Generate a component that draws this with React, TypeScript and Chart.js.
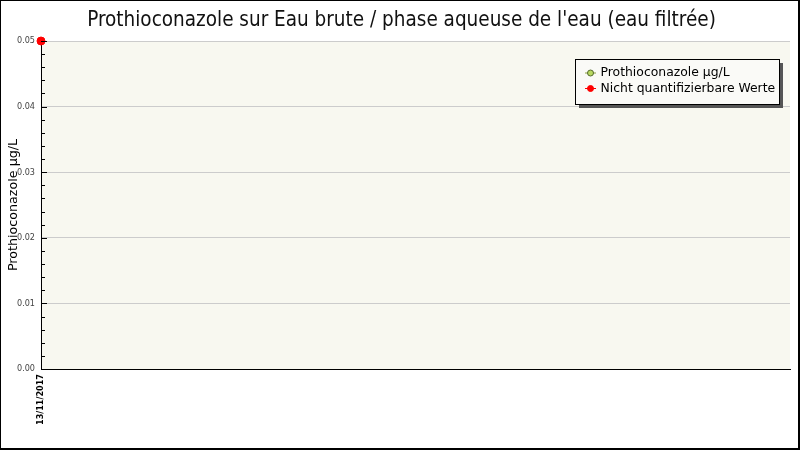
import React, { useEffect, useRef } from "react";
import { Chart, registerables } from "chart.js";

Chart.register(...registerables);

const TITLE = "Prothioconazole sur Eau brute / phase aqueuse de l'eau (eau filtrée)";
const Y_TITLE = "Prothioconazole µg/L";
const categories = ["13/11/2017"];
const measuredLabel = "Prothioconazole µg/L";
const measuredValues: (number | null)[] = [null];
const nqLabel = "Nicht quantifizierbare Werte";
const nqValues: (number | null)[] = [0.05];
const yMin = 0;
const yMax = 0.05;
const yStep = 0.01;
const yMinorStep = 0.002;

const FONT = "'DejaVu Sans', sans-serif";
const FONT_C = "'DejaVu Sans Condensed', 'DejaVu Sans', sans-serif";

const decorPlugin = {
  id: "decor",
  beforeDraw(chart: any) {
    const { ctx, chartArea } = chart;
    ctx.save();
    ctx.fillStyle = "#ffffff";
    ctx.fillRect(0, 0, chart.width, chart.height);
    ctx.fillStyle = "#f8f8f0";
    ctx.fillRect(chartArea.left, chartArea.top, chartArea.right - chartArea.left, chartArea.bottom - chartArea.top);
    ctx.restore();
  },
  afterDraw(chart: any) {
    const { ctx, chartArea } = chart;
    const y = chart.scales.y;
    ctx.save();
    ctx.strokeStyle = "#000";
    ctx.lineWidth = 1;
    const n = Math.round((yMax - yMin) / yMinorStep);
    for (let i = 0; i <= n; i++) {
      const v = yMin + i * yMinorStep;
      const py = Math.round(y.getPixelForValue(v)) + 0.5;
      const major = i % Math.round(yStep / yMinorStep) === 0;
      ctx.beginPath();
      ctx.moveTo(chartArea.left, py);
      ctx.lineTo(chartArea.left + (major ? 6 : 4), py);
      ctx.stroke();
    }
    ctx.fillStyle = "#111";
    ctx.font = `20.5px ${FONT_C}`;
    ctx.textAlign = "center";
    ctx.textBaseline = "alphabetic";
    ctx.fillText(TITLE, 401.5, 26);
    ctx.fillStyle = "#000";
    ctx.save();
    ctx.translate(16.5, (chartArea.top + chartArea.bottom) / 2);
    ctx.rotate(-Math.PI / 2);
    ctx.font = `12.7px ${FONT}`;
    ctx.fillText(Y_TITLE, 0, 0);
    ctx.restore();
    const lx = 575, ly = 59, lw = 204, lh = 45;
    ctx.fillStyle = "#555";
    ctx.fillRect(lx + 4, ly + 4, lw, lh);
    ctx.fillStyle = "#fafaf7";
    ctx.fillRect(lx, ly, lw, lh);
    ctx.strokeStyle = "#000";
    ctx.strokeRect(lx + 0.5, ly + 0.5, lw, lh);
    const items = chart.data.datasets.map((d: any) => ({
      label: d.label,
      fill: d.pointBackgroundColor,
      stroke: d.pointBorderColor,
      line: d.legendLine,
    }));
    items.forEach((it: any, i: number) => {
      const cy = ly + 14 + i * 15.5;
      ctx.strokeStyle = it.line;
      ctx.lineWidth = 1;
      ctx.beginPath();
      ctx.moveTo(585, cy);
      ctx.lineTo(596, cy);
      ctx.stroke();
      ctx.beginPath();
      ctx.arc(590.5, cy, 3, 0, Math.PI * 2);
      ctx.fillStyle = it.fill;
      ctx.fill();
      ctx.strokeStyle = it.stroke;
      ctx.stroke();
      ctx.fillStyle = "#000";
      ctx.font = `12.4px ${FONT}`;
      ctx.textAlign = "left";
      ctx.textBaseline = "middle";
      ctx.fillText(it.label, 600.5, cy);
    });
    ctx.strokeStyle = "#000";
    ctx.lineWidth = 1;
    ctx.strokeRect(0.5, 0.5, chart.width - 1.5, chart.height - 1.5);
    ctx.lineWidth = 2;
    ctx.beginPath();
    ctx.moveTo(chart.width - 1, 0);
    ctx.lineTo(chart.width - 1, chart.height - 1);
    ctx.lineTo(0, chart.height - 1);
    ctx.stroke();
    ctx.restore();
  },
};

export default function App() {
  const ref = useRef<HTMLCanvasElement>(null);
  useEffect(() => {
    document.body.style.margin = "0";
    const chart = new Chart(ref.current!, {
      type: "line",
      data: {
        labels: categories,
        datasets: [
          {
            label: measuredLabel,
            data: measuredValues,
            showLine: false,
            pointRadius: 3,
            pointBackgroundColor: "#b8d860",
            pointBorderColor: "#556b2f",
            borderColor: "#556b2f",
            legendLine: "#8aa040",
          } as any,
          {
            label: nqLabel,
            data: nqValues,
            showLine: false,
            pointRadius: 4,
            pointBackgroundColor: "#ff0000",
            pointBorderColor: "#ff0000",
            borderColor: "#ff0000",
            legendLine: "#ff0000",
            clip: false,
          } as any,
        ],
      },
      options: {
        animation: false,
        responsive: false,
        devicePixelRatio: 1,
        layout: { padding: { top: 41, right: 10, left: 0, bottom: 0 } },
        plugins: { legend: { display: false }, title: { display: false }, tooltip: { enabled: false } },
        scales: {
          x: {
            type: "category",
            offset: false,
            grid: { display: false, drawTicks: false },
            border: { display: true, color: "#000", width: 1 },
            ticks: {
              maxRotation: 90,
              minRotation: 90,
              padding: 5,
              color: "#000",
              font: { family: FONT_C, size: 9, weight: "bold" },
            },
            afterFit: (s: any) => { s.height = 81; },
          },
          y: {
            min: yMin,
            max: yMax,
            grid: { color: "#cccccc", drawTicks: false },
            border: { display: true, color: "#000", width: 1 },
            ticks: {
              stepSize: yStep,
              padding: 6,
              color: "#444",
              font: { family: FONT_C, size: 9 },
              callback: (v: any) => Number(v).toFixed(2),
            },
            afterFit: (s: any) => { s.width = 41; },
          },
        },
      },
      plugins: [decorPlugin],
    });
    return () => chart.destroy();
  }, []);
  return (
    <div style={{ position: "absolute", left: 0, top: 0, width: 800, height: 450 }}>
      <canvas ref={ref} width={800} height={450} style={{ width: 800, height: 450 }} />
    </div>
  );
}
